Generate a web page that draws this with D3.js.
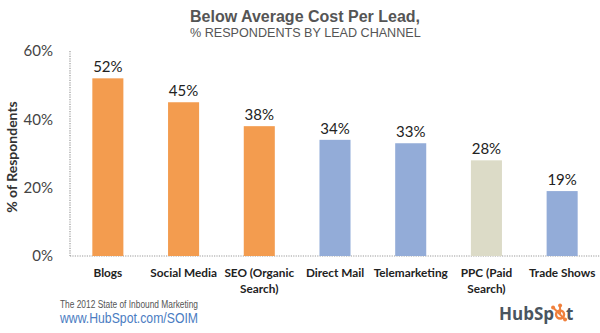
<!DOCTYPE html>
<html>
<head>
<meta charset="utf-8">
<script src="https://cdn.jsdelivr.net/npm/d3@7"></script>
<style>
  body { margin: 0; background: #fff; }
  svg { display: block; }
</style>
</head>
<body>
<div id="chart"></div>
<script>
// chart data
const channels = ["Blogs", "Social Media", "SEO (Organic Search)", "Direct Mail", "Telemarketing", "PPC (Paid Search)", "Trade Shows"];
const channelLines = [["Blogs"], ["Social Media"], ["SEO (Organic", "Search)"], ["Direct Mail"], ["Telemarketing"], ["PPC (Paid", "Search)"], ["Trade Shows"]];
const respondents = [52, 45, 38, 34, 33, 28, 19];
const channelGroup = ["inbound", "inbound", "inbound", "outbound", "outbound", "paid", "outbound"];
const yTicks = [0, 20, 40, 60];

const colorMap = {
    inbound: "#f39c4f",
    outbound: "#93acd8",
    paid: "#dcdbc7"
};

const W = 600, H = 333;
const margin = { top: 51, right: 0, bottom: 77, left: 70 };
const sansFont = "'Liberation Sans', Arial, sans-serif";

const svg = d3.select("#chart").append("svg")
    .attr("width", W)
    .attr("height", H);

const x = d3.scaleBand()
    .domain(channels)
    .range([margin.left, W - margin.right])
    .paddingInner(0.59)
    .paddingOuter(0.295);

const y = d3.scaleLinear()
    .domain([0, 60])
    .range([H - margin.bottom, margin.top]);

/* title */
const title = svg.append("text")
    .attr("fill", "#555")
    .style("font-family", sansFont);
title.append("tspan")
    .attr("x", 190).attr("y", 22)
    .style("font-size", "16px").style("font-weight", "bold")
    .text("Below Average Cost Per Lead,");
title.append("tspan")
    .attr("x", 190).attr("y", 37)
    .style("font-size", "12.6px")
    .text("% RESPONDENTS BY LEAD CHANNEL");

/* axes (dotted lines) */
const axisColor = "#999";
svg.append("line")
    .attr("x1", margin.left).attr("x2", margin.left)
    .attr("y1", y(60)).attr("y2", y(0))
    .attr("stroke", axisColor)
    .attr("stroke-width", 1.2)
    .attr("stroke-dasharray", "1.2,1.2");

svg.append("line")
    .attr("x1", margin.left).attr("x2", W)
    .attr("y1", y(0)).attr("y2", y(0))
    .attr("stroke", axisColor)
    .attr("stroke-width", 1.2)
    .attr("stroke-dasharray", "1.2,1.2");

const yAxis = d3.axisLeft(y)
    .tickValues(yTicks)
    .tickFormat(d => d + "%")
    .tickSize(0)
    .tickPadding(17);

svg.append("g")
    .attr("transform", `translate(${margin.left},0)`)
    .call(yAxis)
    .call(g => g.select(".domain").remove())
    .selectAll("text")
    .attr("fill", "#444")
    .style("font-family", "Lato, sans-serif")
    .style("font-size", "15px");

svg.append("text")
    .attr("transform", "translate(17,157) rotate(-90)")
    .attr("text-anchor", "middle")
    .attr("fill", "#333")
    .style("font-family", "Lato, sans-serif")
    .style("font-size", "14px")
    .style("font-weight", "bold")
    .text("% of Respondents");

/* bars */
const bars = svg.append("g");
bars.selectAll("rect")
    .data(channels)
    .join("rect")
    .attr("x", d => x(d))
    .attr("width", x.bandwidth())
    .attr("y", (d, i) => y(respondents[i]))
    .attr("height", (d, i) => y(0) - y(respondents[i]))
    .attr("fill", (d, i) => colorMap[channelGroup[i]]);

bars.selectAll("text.value")
    .data(channels)
    .join("text")
    .attr("class", "value")
    .attr("x", d => x(d) + x.bandwidth() / 2)
    .attr("y", (d, i) => y(respondents[i]) - 6)
    .attr("text-anchor", "middle")
    .attr("fill", "#222")
    .style("font-family", "Lato, sans-serif")
    .style("font-size", "15px")
    .text((d, i) => respondents[i] + "%");

/* category labels */
svg.append("g").selectAll("text")
    .data(channels)
    .join("text")
    .attr("text-anchor", "middle")
    .attr("fill", "#222")
    .style("font-family", "Lato, sans-serif")
    .style("font-size", "11.8px")
    .style("font-weight", "bold")
    .each(function (d, i) {
        d3.select(this).selectAll("tspan")
            .data(channelLines[i])
            .join("tspan")
            .attr("x", x(d) + x.bandwidth() / 2)
            .attr("y", (l, j) => 277 + j * 16)
            .text(l => l);
    });

/* footer */
svg.append("text")
    .attr("x", 60).attr("y", 308)
    .attr("fill", "#555")
    .attr("textLength", 138)
    .attr("lengthAdjust", "spacingAndGlyphs")
    .style("font-family", sansFont)
    .style("font-size", "10px")
    .text("The 2012 State of Inbound Marketing");

svg.append("text")
    .attr("x", 60).attr("y", 323)
    .attr("fill", "#4a7cc2")
    .attr("textLength", 138)
    .attr("lengthAdjust", "spacingAndGlyphs")
    .style("font-family", sansFont)
    .style("font-size", "15px")
    .text("www.HubSpot.com/SOIM");

/* HubSpot logo */
const logoFont = { family: "'Open Sans', sans-serif", size: "17px" };
const logo = svg.append("g").attr("transform", "translate(499,320)");
const hubsp = logo.append("text")
    .attr("x", 0).attr("y", 0)
    .attr("fill", "#4a5560")
    .style("font-family", logoFont.family)
    .style("font-size", logoFont.size)
    .style("font-weight", "bold")
    .text("HubSp");
const sx = hubsp.node().getComputedTextLength() + 6, sy = -5.5;
const spokes = [[0, -9], [-7, -7], [5, 5]];
spokes.forEach(([dx, dy]) => {
    logo.append("line")
        .attr("x1", sx).attr("y1", sy)
        .attr("x2", sx + dx).attr("y2", sy + dy)
        .attr("stroke", "#f0803c").attr("stroke-width", 2);
    logo.append("circle")
        .attr("cx", sx + dx).attr("cy", sy + dy).attr("r", 2)
        .attr("fill", "#f0803c");
});
logo.append("circle")
    .attr("cx", sx).attr("cy", sy).attr("r", 4)
    .attr("fill", "none").attr("stroke", "#f0803c").attr("stroke-width", 2.4);
logo.append("text")
    .attr("x", sx + 6).attr("y", 0)
    .attr("fill", "#4a5560")
    .style("font-family", logoFont.family)
    .style("font-size", logoFont.size)
    .style("font-weight", "bold")
    .text("t");
</script>
</body>
</html>
